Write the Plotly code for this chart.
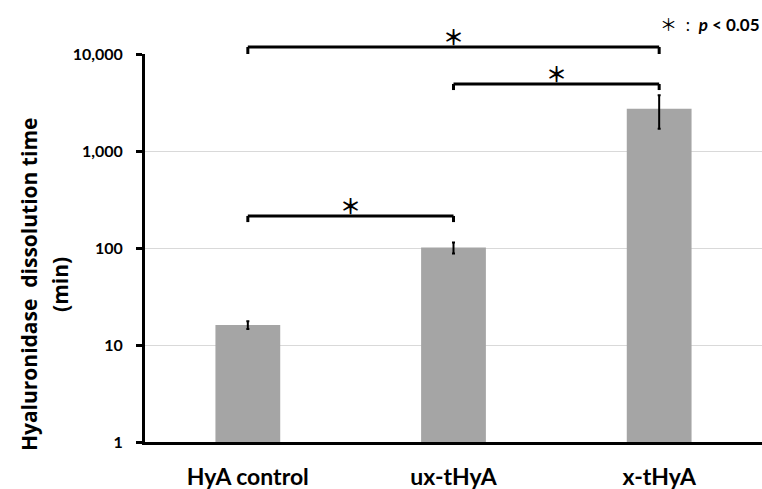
import math
import plotly.graph_objects as go

# ---- data ----
categories = ["HyA control", "ux-tHyA", "x-tHyA"]
dissolution_min = [16.1, 101, 2730]
error_min = [1.5, 13, 1030]
y_tick_vals = [1, 10, 100, 1000, 10000]
y_tick_text = ["1", "10", "100", "1,000", "10,000"]
# significance brackets: (left category index, right category index, top value, end value)
bracket_left = [0, 1, 0]
bracket_right = [2, 2, 1]
bracket_top = [11800, 4910, 214]
bracket_end = [10000, 4250, 185]
sig_label = "＊"
y_title_lines = ["Hyaluronidase\u00a0\u00a0dissolution time", "(min)"]

Y_RANGE = [0, 4]  # log10 range of the y axis


def to_domain(v):
    """value -> fraction of the log y axis (so brackets above the top are not clipped)"""
    return (math.log10(v) - Y_RANGE[0]) / (Y_RANGE[1] - Y_RANGE[0])


x_pos = list(range(len(categories)))

fig = go.Figure()
fig.add_trace(go.Bar(
    x=x_pos, y=dissolution_min, width=0.315,
    marker=dict(color="#a5a5a5", line=dict(width=0)),
    error_y=dict(type="data", array=error_min, visible=True,
                 color="black", thickness=2, width=1.5),
    showlegend=False, hoverinfo="skip",
))

shapes = []
annotations = []
for a, b, top, end in zip(bracket_left, bracket_right, bracket_top, bracket_end):
    yt, ye = to_domain(top), to_domain(end)
    for (x0, y0, x1, y1) in [(a, ye, a, yt), (a, yt, b, yt), (b, yt, b, ye)]:
        shapes.append(dict(type="line", xref="x", yref="y domain",
                           x0=x0, y0=y0, x1=x1, y1=y1,
                           line=dict(color="black", width=3)))
    annotations.append(dict(
        x=(a + b) / 2, y=yt, xref="x", yref="paper",
        text=sig_label, showarrow=False, yanchor="middle", yshift=11,
        font=dict(family="Noto Sans CJK JP", size=21, color="black", weight="bold")))

annotations.append(dict(
    x=1.0, y=1.078, xref="paper", yref="paper", xanchor="right", yanchor="middle",
    text="<span style='font-family:Noto Sans CJK JP'>＊</span>\u00a0\u00a0:\u00a0\u00a0<b><i>p</i> < 0.05</b>",
    showarrow=False,
    font=dict(family="Lato", size=17, color="black")))

for xp, line in zip([-0.188, -0.138], y_title_lines):
    annotations.append(dict(
        x=xp, y=0.407, xref="paper", yref="paper", xanchor="center", yanchor="middle",
        text=line, textangle=-90, showarrow=False,
        font=dict(family="Open Sans", size=21, color="black", weight="bold")))

fig.update_layout(
    width=762, height=489,
    margin=dict(l=145, r=0, t=54, b=47),
    paper_bgcolor="white", plot_bgcolor="white",
    shapes=shapes, annotations=annotations,
    font=dict(family="Lato", color="black"),
    xaxis=dict(
        range=[-0.5, 2.5], tickvals=x_pos, ticktext=categories,
        showgrid=False, zeroline=False, showline=True, linecolor="black", linewidth=3,
        ticks="", ticklabelstandoff=12,
        tickfont=dict(family="Lato", size=23, color="black", weight="bold"),
    ),
    yaxis=dict(
        type="log", range=Y_RANGE, tickvals=y_tick_vals, ticktext=y_tick_text,
        showgrid=True, gridcolor="#d9d9d9", gridwidth=1, zeroline=False,
        showline=True, linecolor="black", linewidth=3,
        ticks="outside", ticklen=6, tickwidth=3, tickcolor="black",
        ticklabelstandoff=10,
        tickfont=dict(family="Lato", size=16, color="black", weight="bold"),
    ),
)

fig.write_html("out.html", config={"displayModeBar": False},
               post_script="document.body.style.margin='0';")
